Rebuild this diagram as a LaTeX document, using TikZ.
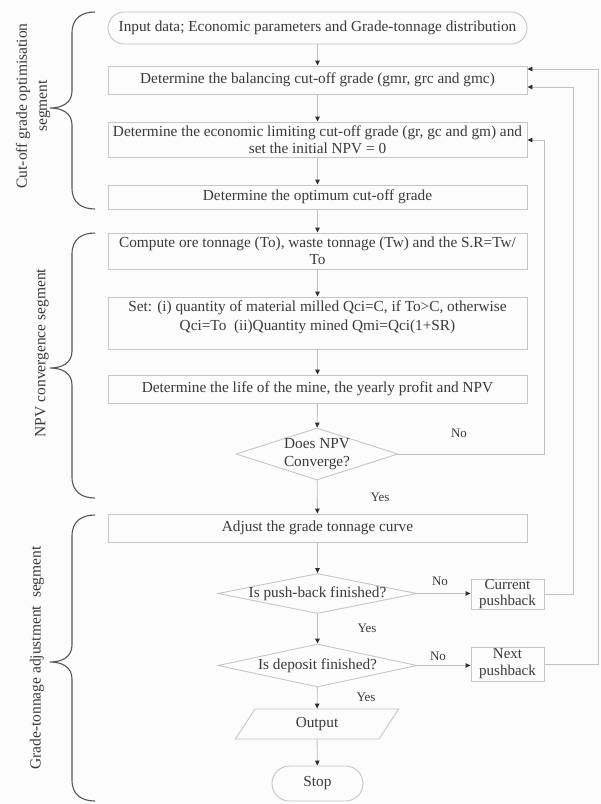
\documentclass[tikz,border=0pt]{standalone}
\usepackage{fontspec}
\setmainfont{Liberation Serif}
\usetikzlibrary{shapes.geometric,arrows.meta}
\definecolor{txt}{HTML}{3A3A3A}
\definecolor{bord}{HTML}{C6C6C6}
\definecolor{ln}{HTML}{C0C0C0}
\definecolor{brc}{HTML}{555555}
\definecolor{tipc}{HTML}{2E2E2E}
\definecolor{bg}{HTML}{FCFCFC}
\newcommand\segbrace[3]{%
  \draw[bracestyle] (95,#1) .. controls (82,#1) and (72,{#1+6}) .. (72,{#1+21})
    -- (72,{#2-17}) .. controls (72,{#2-5}) and (62,#2) .. (50,#2)
    .. controls (62,#2) and (72,{#2+5}) .. (72,{#2+17})
    -- (72,{#3-21}) .. controls (72,{#3-6}) and (82,#3) .. (95,#3);}
\begin{document}
\begin{tikzpicture}[x=1pt,y=-1pt,
  every node/.style={text=txt},
  base/.style={draw=bord, line width=0.9pt, inner sep=0pt, align=center,
    font=\fontsize{15.3}{17.5}\selectfont},
  box/.style={base, minimum width=419pt},
  dec/.style={base, shape=diamond},
  lab/.style={inner sep=1pt, font=\fontsize{13}{15}\selectfont},
  seglab/.style={inner sep=0pt, rotate=90, align=center, font=\fontsize{15.5}{20}\selectfont},
  flow/.style={draw=ln, line width=0.9pt, -{Triangle[length=5pt,width=4.5pt,color=tipc]}},
  bracestyle/.style={draw=brc, line width=1.1pt}]
\fill[bg] (0,0) rectangle (601,804);
\useasboundingbox (0,0) rectangle (601,804);

% nodes
\node[box, minimum height=32pt, rounded corners=16pt] (inp) at (317.5,28)
  {Input data; Economic parameters and Grade-tonnage distribution};
\node[box, minimum height=28pt] (bal) at (317.5,80)
  {Determine the balancing cut-off grade (gmr, grc and gmc)};
\node[box, minimum height=35pt] (lim) at (317.5,139.5)
  {Determine the economic limiting cut-off grade (gr, gc and gm) and\\set the initial NPV = 0};
\node[box, minimum height=24pt] (opt) at (317.5,197)
  {Determine the optimum cut-off grade};
\node[box, minimum height=36pt] (ore) at (317.5,251)
  {Compute ore tonnage (To), waste tonnage (Tw) and the S.R=Tw/\\To};
\node[box, minimum height=52pt] (set) at (317.5,323)
  {Set: (i) quantity of material milled Qci=C, if To>C, otherwise\\[1.5pt]Qci=To\ \ (ii)Quantity mined Qmi=Qci(1+SR)\hspace*{6pt}\\[-3pt]\mbox{}};
\node[box, minimum height=28pt] (life) at (317.5,389)
  {Determine the life of the mine, the yearly profit and NPV};
\node[dec, minimum width=162pt, minimum height=52pt,
  label={[base,draw=none]center:Does NPV\\Converge?}] (conv) at (317,454) {};
\node[box, minimum height=28pt] (adj) at (317.5,528)
  {Adjust the grade tonnage curve};
\node[dec, minimum width=199pt, minimum height=40pt,
  label={[base,draw=none]center:Is push-back finished?}] (push) at (317.5,593.5) {};
\node[dec, minimum width=199pt, minimum height=43pt,
  label={[base,draw=none]center:Is deposit finished?}] (dep) at (317.5,665.5) {};
\node[base, trapezium, trapezium stretches=true, trapezium left angle=63.4,
  trapezium right angle=116.6, minimum width=164pt, minimum height=30pt] (out) at (317,724) {Output};
\node[base, minimum width=91pt, minimum height=35pt, rounded corners=17.5pt] (stop) at (317.5,783.5) {Stop};
\node[base, minimum width=73pt, minimum height=29pt, font=\fontsize{15}{16}\selectfont] (cur) at (507.5,594.5) {Current\\pushback};
\node[base, minimum width=73pt, minimum height=34pt, font=\fontsize{15}{17}\selectfont] (nxt) at (507.5,664) {Next\\pushback};

% main flow
\draw[flow] (inp) -- (bal);
\draw[flow] (bal) -- (lim);
\draw[flow] (lim) -- (opt);
\draw[flow] (opt) -- (ore);
\draw[flow] (ore) -- (set);
\draw[flow] (set) -- (life);
\draw[flow] (life) -- (conv);
\draw[flow] (conv) -- (adj);
\draw[flow] (adj) -- (push);
\draw[flow] (push) -- (dep);
\draw[flow] (dep) -- (out);
\draw[flow] (out) -- (stop);
\draw[flow] (push.east) -- (push.east -| cur.west);
\draw[flow] (dep.east) -- (dep.east -| nxt.west);

% feedback loops
\coordinate (fb1) at (544,140);
\coordinate (fb2) at (573,87);
\coordinate (fb3) at (598,69);
\draw[flow] (conv.east) -| (fb1) -- (fb1 -| lim.east);
\draw[flow] (cur.east) -| (fb2) -- (fb2 -| bal.east);
\draw[flow] (nxt.east) -| (fb3) -- (fb3 -| bal.east);

% labels
\node[lab] (no1) at (459,433) {No};
\node[lab] (no2) at (440,581) {No};
\node[lab] (no3) at (438,656) {No};
\node[lab] (yes1) at (380,497) {Yes};
\node[lab] (yes2) at (367,628) {Yes};
\node[lab] (yes3) at (366,697) {Yes};

% segment braces
\segbrace{12}{108}{209}
\segbrace{233}{368}{498}
\segbrace{515}{662}{801}
\node[seglab] (s1) at (33,106) {Cut-off grade optimisation\\segment};
\node[seglab] (s2) at (42,353) {NPV convergence segment};
\node[seglab] (s3) at (37,658) {Grade-tonnage adjustment\ \ segment};
\end{tikzpicture}
\end{document}
